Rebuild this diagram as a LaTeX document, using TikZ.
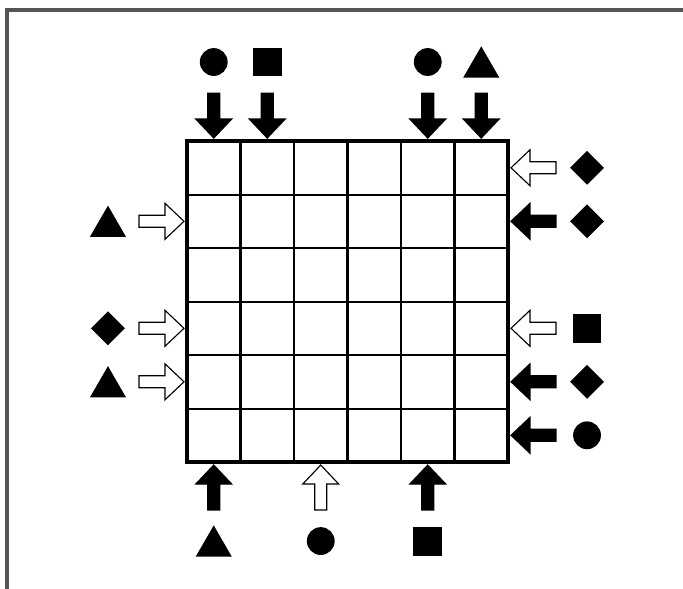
\documentclass[tikz,border=0pt]{standalone}
\usepackage{xcolor}
\usepackage{tikz}
\usetikzlibrary{shapes.geometric}

\definecolor{framegray}{RGB}{85,85,85}

\tikzset{
  blockarrow/.pic={
    \draw[pic actions, line width=0.6pt, line join=miter]
      (0,0) -- (-0.355,0.336) -- (-0.355,0.112) -- (-0.84,0.112)
      -- (-0.84,-0.112) -- (-0.355,-0.112) -- (-0.355,-0.336) -- cycle;
  }
}

\begin{document}
\begin{tikzpicture}[
    blk/.style={fill=black},
    wht/.style={fill=white},
    dot/.style={circle, fill=black, inner sep=0pt, minimum size=0.52cm},
    sq/.style={rectangle, fill=black, inner sep=0pt, minimum size=0.54cm},
    dia/.style={diamond, fill=black, inner sep=0pt, minimum size=0.64cm},
    tri/.style={regular polygon, regular polygon sides=3, fill=black, inner sep=0pt, minimum size=0.78cm, yshift=-0.097cm}]
  \useasboundingbox (-3.495,-2.355) rectangle (9.271,8.636);
  % frame
  \draw[framegray, line width=1.8pt] (-3.364,-2.6) -- (-3.364,8.449) -- (9.5,8.449);
  % grid
  \draw[line width=1.1pt] (0,0) grid (6,6);
  \draw[line width=1.7pt] (0,0) rectangle (6,6);
  % top
  \node[dot] (t1) at (0.5,7.477) {};
  \node[sq]  (t2) at (1.5,7.477) {};
  \node[dot] (t5) at (4.5,7.477) {};
  \node[tri] (t6) at (5.5,7.477) {};
  \pic[blk, rotate=-90] at (0.5,6.056) {blockarrow};
  \pic[blk, rotate=-90] at (1.5,6.056) {blockarrow};
  \pic[blk, rotate=-90] at (4.5,6.056) {blockarrow};
  \pic[blk, rotate=-90] at (5.5,6.056) {blockarrow};
  % right
  \node[dia] (r1) at (7.477,5.5) {};
  \node[dia] (r2) at (7.477,4.5) {};
  \node[sq]  (r4) at (7.477,2.5) {};
  \node[dia] (r5) at (7.477,1.5) {};
  \node[dot] (r6) at (7.477,0.5) {};
  \pic[wht, rotate=180] at (6.056,5.5) {blockarrow};
  \pic[blk, rotate=180] at (6.056,4.5) {blockarrow};
  \pic[wht, rotate=180] at (6.056,2.5) {blockarrow};
  \pic[blk, rotate=180] at (6.056,1.5) {blockarrow};
  \pic[blk, rotate=180] at (6.056,0.5) {blockarrow};
  % left
  \node[tri] (l2) at (-1.477,4.5) {};
  \node[dia] (l4) at (-1.477,2.5) {};
  \node[tri] (l5) at (-1.477,1.5) {};
  \pic[wht] at (-0.056,4.5) {blockarrow};
  \pic[wht] at (-0.056,2.5) {blockarrow};
  \pic[wht] at (-0.056,1.5) {blockarrow};
  % bottom
  \node[tri] (b1) at (0.5,-1.477) {};
  \node[dot] (b3) at (2.5,-1.477) {};
  \node[sq]  (b5) at (4.5,-1.477) {};
  \pic[blk, rotate=90] at (0.5,-0.056) {blockarrow};
  \pic[wht, rotate=90] at (2.5,-0.056) {blockarrow};
  \pic[blk, rotate=90] at (4.5,-0.056) {blockarrow};
\end{tikzpicture}
\end{document}
